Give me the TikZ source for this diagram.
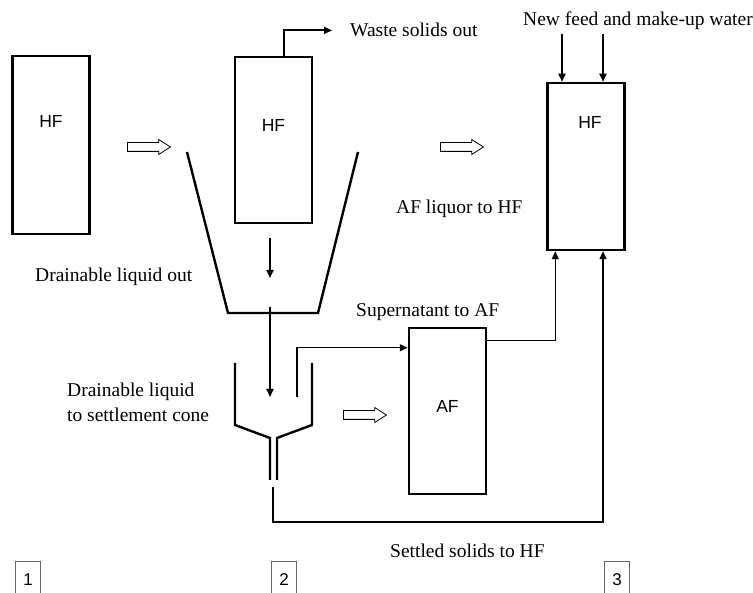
\documentclass[tikz,border=0pt]{standalone}
\usepackage{fontspec}
\setmainfont{Liberation Serif}
\newfontfamily\sansfont{Liberation Sans}
\usetikzlibrary{positioning,arrows.meta,shapes.arrows}

\begin{document}
\begin{tikzpicture}[x=1pt, y=-1pt, >={Triangle[length=8pt,width=7pt]},
      unit/.style={draw, line width=2.5pt, minimum width=77pt, inner sep=0pt},
      tag/.style={font=\sansfont\fontsize{17.5}{20}\selectfont},
      caption/.style={font=\fontsize{19.5}{25}\selectfont, inner sep=0pt},
      wall/.style={line width=2.4pt},
      flow/.style={->, line width=1.8pt},
      pipe/.style={->, line width=1.2pt},
      move/.style={single arrow, draw, line width=0.8pt, inner sep=4pt, minimum height=43pt,
        single arrow head extend=3pt, single arrow tip angle=65},
      stage/.style={draw=black!60, line width=0.8pt, minimum width=25pt, minimum height=38pt,
        font=\sansfont\fontsize{17}{20}\selectfont}]
    \useasboundingbox (0,0) rectangle (753,593);
    \node[unit, minimum height=178pt] (hf1) at (51,145) {};
    \node[unit, minimum height=166pt] (hf2) at (273.5,140) {};
    \node[unit, minimum height=167pt] (hf3) at (586,166.5) {};
    \node[unit, minimum height=166pt] (af) at (447.5,411) {};
    \node[tag] at (51,121) {HF};
    \node[tag] at (273.5,125) {HF};
    \node[tag] at (590,122) {HF};
    \node[tag] at (447.5,406) {AF};
    \node[caption, anchor=base west] (waste) at (350,37) {Waste solids out};
    \node[caption, anchor=base west] (feed) at (523,26) {New feed and make-up water};
    \node[caption, anchor=base west] (drain) at (35,282) {Drainable liquid out};
    \node[caption, anchor=base west] (liquor) at (396,214) {AF liquor to HF};
    \node[caption, anchor=base west] (super) at (356,317) {Supernatant to AF};
    \node[caption, anchor=west, align=left] (settle) at (67,402) {Drainable liquid\\to settlement cone};
    \node[caption, anchor=base west] (solids) at (390,558) {Settled solids to HF};
    \node[move] (m1) at (145.5,147) {};
    \node[move] (m2) at (458.5,147) {};
    \node[move] (m3) at (361.5,415) {};
    \node[stage] (s1) at (28,580) {1};
    \node[stage] (s2) at (284,580) {2};
    \node[stage] (s3) at (617,580) {3};
    \draw[wall] (187,152) -- (228,313) -- (318,313) -- (358,152);
    \draw[wall] (235,363) -- (235,425) -- (270,438) -- (270,480);
    \draw[wall] (312,363) -- (312,425) -- (277,438) -- (277,480);
    \coordinate (hopin) at (270,278);
    \coordinate (hopout) at (270,307);
    \coordinate (conein) at (270,397);
    \coordinate (riser) at (297,397);
    \coordinate (sludge) at (273,487);
    \draw[flow] ([xshift=-3.5pt, yshift=-14pt]hf2.south) -- (hopin);
    \draw[flow] (hopout) -- (conein);
    \draw[flow] ([xshift=10.5pt]hf2.north) |- ([xshift=-18pt]waste.west);
    \foreach \dx in {-24,17} {
      \draw[flow] ([xshift=\dx pt]hf3.north) ++(0,-48) -- ([xshift=\dx pt]hf3.north);
    }
    \draw[pipe] (riser) |- ([yshift=-21pt]af.north west);
    \draw[pipe] ([yshift=-14pt]af.north east) -| ([xshift=9pt]hf3.south west);
    \draw[pipe] (sludge) -- (273,522) -| ([xshift=17pt]hf3.south);
  \end{tikzpicture}
\end{document}
